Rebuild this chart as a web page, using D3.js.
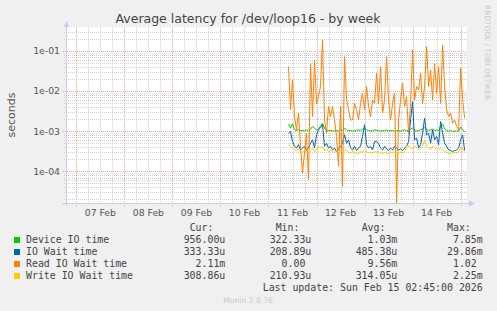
<!DOCTYPE html>
<html>
<head>
<meta charset="utf-8">
<script src="https://cdn.jsdelivr.net/npm/d3@7"></script>
<style>
body { margin:0; background:#f0f0f0; }
text { font-family:"DejaVu Sans", sans-serif; }
.mono { font-family:"DejaVu Sans Mono", monospace; white-space:pre; }
</style>
</head>
<body>
<script>
// hourly samples, first one at Feb 11 10:00
var startTime = new Date(2026,1,11,10,0);

var deviceIO = [1.52e-3,1.19e-3,1.52e-3,1.08e-3,1.04e-3,1.08e-3,1.02e-3,1.04e-3,1.00e-3,1.08e-3,
  1.04e-3,1.12e-3,1.30e-3,1.19e-3,1.08e-3,1.12e-3,1.36e-3,1.58e-3,1.16e-3,1.08e-3,
  1.02e-3,1.04e-3,1.00e-3,1.02e-3,1.04e-3,1.00e-3,1.08e-3,1.04e-3,1.16e-3,1.08e-3,
  1.02e-3,1.04e-3,1.00e-3,1.02e-3,1.04e-3,1.08e-3,1.02e-3,1.12e-3,1.21e-3,1.08e-3,
  1.04e-3,1.00e-3,1.02e-3,1.08e-3,1.04e-3,1.02e-3,1.00e-3,1.04e-3,1.02e-3,1.08e-3,
  1.00e-3,1.04e-3,1.02e-3,1.00e-3,1.04e-3,1.02e-3,1.00e-3,1.04e-3,1.08e-3,1.02e-3,
  1.04e-3,1.12e-3,1.19e-3,1.08e-3,1.02e-3,1.04e-3,1.08e-3,1.12e-3,1.21e-3,1.08e-3,
  1.04e-3,1.08e-3,1.12e-3,1.04e-3,1.08e-3,1.02e-3,1.36e-3,1.52e-3,1.12e-3,1.04e-3,
  1.00e-3,1.02e-3,0.98e-3,1.00e-3,1.02e-3,1.00e-3,1.26e-3,1.08e-3,0.96e-3];

var ioWait = [8.9e-4,9.8e-4,5.5e-4,4.2e-4,3.8e-4,4.6e-4,3.4e-4,3.8e-4,4.2e-4,3.4e-4,
  3.8e-4,5.0e-4,6.1e-4,3.8e-4,8.1e-4,1.08e-3,1.21e-3,1.44e-3,4.2e-4,5.0e-4,
  3.8e-4,4.2e-4,3.4e-4,3.8e-4,3.1e-4,3.6e-4,4.2e-4,5.0e-4,8.1e-4,5.0e-4,
  6.1e-4,3.8e-4,3.4e-4,4.2e-4,3.3e-4,3.8e-4,4.2e-4,7.4e-4,1.44e-3,4.6e-4,
  3.8e-4,4.2e-4,3.4e-4,5.5e-4,5.5e-4,5.0e-4,3.8e-4,3.4e-4,4.2e-4,3.6e-4,
  3.3e-4,3.8e-4,3.4e-4,4.2e-4,3.8e-4,3.4e-4,3.6e-4,3.3e-4,3.8e-4,4.2e-4,
  5.5e-4,1.91e-3,5.4e-3,6.1e-4,6.7e-4,3.8e-4,4.6e-4,8.9e-4,2.1e-3,8.1e-4,
  8.9e-4,5.0e-4,1.08e-3,6.1e-4,7.4e-4,4.6e-4,1.74e-3,8.9e-4,5.0e-4,4.2e-4,
  3.4e-4,3.3e-4,3.1e-4,3.3e-4,3.4e-4,3.8e-4,6.1e-4,8.1e-4,3.3e-4];

var readIO = [0.040,0.0034,0.0187,0.0023,0.00108,0.0028,0.00042,0.000091,0.000285,0.00089,
  0.000062,0.0485,0.0023,0.0587,0.0049,0.0072,0.0128,0.184,0.0019,0.00089,
  0.0041,0.0023,0.0041,0.0019,0.00074,0.000133,0.0041,0.0000425,0.071,0.0060,
  0.0034,0.0019,0.0019,0.0049,0.0034,0.0019,0.0049,0.00875,0.0034,0.0128,
  0.0041,0.0023,0.0060,0.0049,0.0274,0.0049,0.040,0.0028,0.0060,0.071,
  0.0060,0.0019,0.0049,0.00875,0,0.0019,0.0060,0.0155,0.0041,0.0072,
  0.00089,0.0049,0.104,0.0060,0.0128,0.0106,0.0274,0.0049,0.0128,0.126,
  0.0128,0.0332,0.0060,0.0485,0.00875,0.040,0.0049,0.138,0.0128,0.0034,
  0.0023,0.0028,0.00158,0.0019,0.0013,0.00108,0.0365,0.0060,0.0021];

var writeIO = [4.6e-4,4.2e-4,3.8e-4,3.4e-4,3.3e-4,3.6e-4,3.1e-4,3.0e-4,3.3e-4,3.1e-4,
  3.0e-4,3.4e-4,3.8e-4,3.1e-4,3.4e-4,4.2e-4,3.8e-4,4.2e-4,3.3e-4,3.6e-4,
  3.1e-4,3.3e-4,3.1e-4,3.0e-4,3.1e-4,3.0e-4,3.3e-4,3.1e-4,3.4e-4,3.3e-4,
  3.0e-4,2.85e-4,3.1e-4,3.0e-4,2.74e-4,2.85e-4,3.1e-4,3.0e-4,3.3e-4,3.1e-4,
  2.85e-4,3.0e-4,2.85e-4,3.1e-4,3.0e-4,3.1e-4,2.85e-4,2.74e-4,3.0e-4,2.85e-4,
  2.74e-4,3.0e-4,2.85e-4,3.0e-4,2.85e-4,2.74e-4,3.0e-4,2.85e-4,3.1e-4,4.2e-4,
  4.3e-4,3.8e-4,3.6e-4,4.2e-4,4.0e-4,3.4e-4,3.8e-4,4.3e-4,5.9e-4,4.6e-4,
  3.8e-4,3.6e-4,4.2e-4,3.8e-4,3.4e-4,3.6e-4,3.8e-4,3.4e-4,3.1e-4,3.0e-4,
  2.85e-4,2.74e-4,2.85e-4,3.0e-4,2.85e-4,3.1e-4,3.8e-4,3.6e-4,3.09e-4];

var seriesNames = ['Device IO time','IO Wait time','Read IO Wait time','Write IO Wait time'];
var curVals = ['956.00u','333.33u','2.11m','308.86u'];
var minVals = ['322.33u','208.89u','0.00 ','210.93u'];
var avgVals = ['1.03m','485.38u','9.56m','314.05u'];
var maxVals = ['7.85m','29.86m','1.02 ','2.25m'];
var colHeads = ['Cur:  ','Min:  ','Avg:  ','Max:  '];
var yTicks = [1e-1,1e-2,1e-3,1e-4];
var yTickLabels = ['1e-01','1e-02','1e-03','1e-04'];
var dayLabels = ['07 Feb','08 Feb','09 Feb','10 Feb','11 Feb','12 Feb','13 Feb','14 Feb'];

var colors = ['#00cc00','#0066b3','#ff8000','#ffcc00'];
var allSeries = [deviceIO, ioWait, readIO, writeIO];

var svg = d3.select('body').append('svg').attr('width',497).attr('height',311);
svg.append('rect').attr('width',497).attr('height',311).attr('fill','#f0f0f0');

var x = d3.scaleTime()
  .domain([new Date(2026,1,6,18,50), new Date(2026,1,15,3,20)])
  .range([66,467.3]);
var y = d3.scaleLog().domain([1.63e-5,0.389]).range([203,27]).clamp(true);

var pL = 66, pR = 467, pT = 27, pB = 203;
svg.append('rect').attr('x',pL).attr('y',pT).attr('width',pR-pL).attr('height',pB-pT).attr('fill','#fff');

function px(v){ return Math.round(v)+0.5; }

// minor grid
var minorX = d3.timeHour.every(6).range(x.domain()[0], x.domain()[1]).filter(function(d){ return d.getHours()!=0; });
svg.selectAll('line.minx').data(minorX).enter().append('line')
  .attr('class','minx')
  .attr('x1',function(d){return px(x(d));}).attr('x2',function(d){return px(x(d));})
  .attr('y1',pT).attr('y2',pB)
  .attr('stroke','#d0d0d0').attr('stroke-dasharray','1,1');

var minorY = [];
[-5,-4,-3,-2,-1].forEach(function(k){
  for (var m=2;m<=9;m++){ var v=m*Math.pow(10,k); if (v>y.domain()[0] && v<y.domain()[1]) minorY.push(v); }
});
svg.selectAll('line.miny').data(minorY).enter().append('line')
  .attr('class','miny')
  .attr('x1',pL-2).attr('x2',pR)
  .attr('y1',function(d){return px(y(d));}).attr('y2',function(d){return px(y(d));})
  .attr('stroke','#d0d0d0').attr('stroke-dasharray','1,1');

// major grid
var majorX = d3.timeDay.range(x.domain()[0], x.domain()[1]);
svg.selectAll('line.majx').data(majorX).enter().append('line')
  .attr('class','majx')
  .attr('x1',function(d){return px(x(d));}).attr('x2',function(d){return px(x(d));})
  .attr('y1',pT).attr('y2',pB+3)
  .attr('stroke','#f0a0a0').attr('stroke-dasharray','1,1');
svg.selectAll('line.majy').data(yTicks).enter().append('line')
  .attr('class','majy')
  .attr('x1',pL-3).attr('x2',pR)
  .attr('y1',function(d){return px(y(d));}).attr('y2',function(d){return px(y(d));})
  .attr('stroke','#f0a0a0').attr('stroke-dasharray','1,1');

// axes
svg.append('line').attr('x1',px(pL)).attr('x2',px(pL)).attr('y1',22).attr('y2',pB+3)
  .attr('stroke','#c8ccf0');
svg.append('line').attr('x1',pL-4).attr('x2',472).attr('y1',px(pB)).attr('y2',px(pB))
  .attr('stroke','#c8ccf0');
svg.append('path').attr('d','M63.5,27 L66.5,21 L69.5,27 Z').attr('fill','#c8ccf0');
svg.append('path').attr('d','M469,200.5 L475,203.5 L469,206.5 Z').attr('fill','#c8ccf0');

// series
var line = d3.line()
  .x(function(d,i){ return x(d3.timeHour.offset(startTime,i)); })
  .y(function(d){ return y(Math.max(d, y.domain()[0])); });
svg.append('clipPath').attr('id','plot').append('rect')
  .attr('x',pL).attr('y',pT).attr('width',pR-pL+1).attr('height',pB-pT+1);
svg.append('g').attr('clip-path','url(#plot)')
  .selectAll('path').data(allSeries).enter().append('path')
    .attr('d',line)
    .attr('fill','none')
    .attr('stroke',function(d,i){return colors[i];})
    .attr('stroke-width',1);

// tick labels
svg.selectAll('text.ylab').data(yTicks).enter().append('text')
  .attr('class','ylab')
  .attr('x',60).attr('y',function(d){return y(d)+3.5;})
  .attr('text-anchor','end').attr('font-size',9.3).attr('fill','#555')
  .text(function(d,i){return yTickLabels[i];});
svg.selectAll('text.xlab').data(dayLabels).enter().append('text')
  .attr('class','xlab')
  .attr('x',function(d,i){ return x(new Date(2026,1,7+i,12)); })
  .attr('y',216)
  .attr('text-anchor','middle').attr('font-size',9.3).attr('fill','#555')
  .text(function(d){return d;});

// titles
svg.append('text').attr('x',248).attr('y',23).attr('text-anchor','middle')
  .attr('font-size',12.5).attr('fill','#444')
  .text('Average latency for /dev/loop16 - by week');
svg.append('text').attr('transform','translate(15,115) rotate(-90)')
  .attr('text-anchor','middle').attr('font-size',11).attr('fill','#555')
  .text('seconds');
svg.append('text').attr('transform','translate(484.5,5) rotate(90)')
  .attr('font-size',7.4).attr('fill','#c8c8c8')
  .text('RRDTOOL / TOBI OETIKER');

// legend
var colEnds = [225.3,311.3,397.3,482.7];
svg.selectAll('text.head').data(colHeads).enter().append('text')
  .attr('class','head mono').attr('xml:space','preserve')
  .attr('x',function(d,i){return colEnds[i];}).attr('y',231)
  .attr('text-anchor','end').attr('font-size',9.9).attr('fill','#444')
  .text(function(d){return d;});

var rows = svg.selectAll('g.leg').data(seriesNames).enter().append('g')
  .attr('class','leg')
  .attr('transform',function(d,i){ return 'translate(0,'+(243+i*12)+')'; });
rows.append('rect').attr('x',14).attr('y',-6).attr('width',6).attr('height',6)
  .attr('fill',function(d,i){return colors[i];});
rows.append('text').attr('class','mono').attr('x',26).attr('font-size',9.9).attr('fill','#444')
  .text(function(d){return d;});
[curVals,minVals,avgVals,maxVals].forEach(function(col,c){
  rows.append('text').attr('class','mono').attr('xml:space','preserve')
    .attr('x',colEnds[c]).attr('text-anchor','end').attr('font-size',9.9).attr('fill','#444')
    .text(function(d,i){return col[i];});
});

svg.append('text').attr('class','mono').attr('x',482.7).attr('y',291)
  .attr('text-anchor','end').attr('font-size',9.9).attr('fill','#444')
  .text('Last update: Sun Feb 15 02:45:00 2026');
svg.append('text').attr('x',248).attr('y',303).attr('text-anchor','middle')
  .attr('font-size',7.6).attr('fill','#c8c8c8')
  .text('Munin 2.0.76');
</script>
</body>
</html>
